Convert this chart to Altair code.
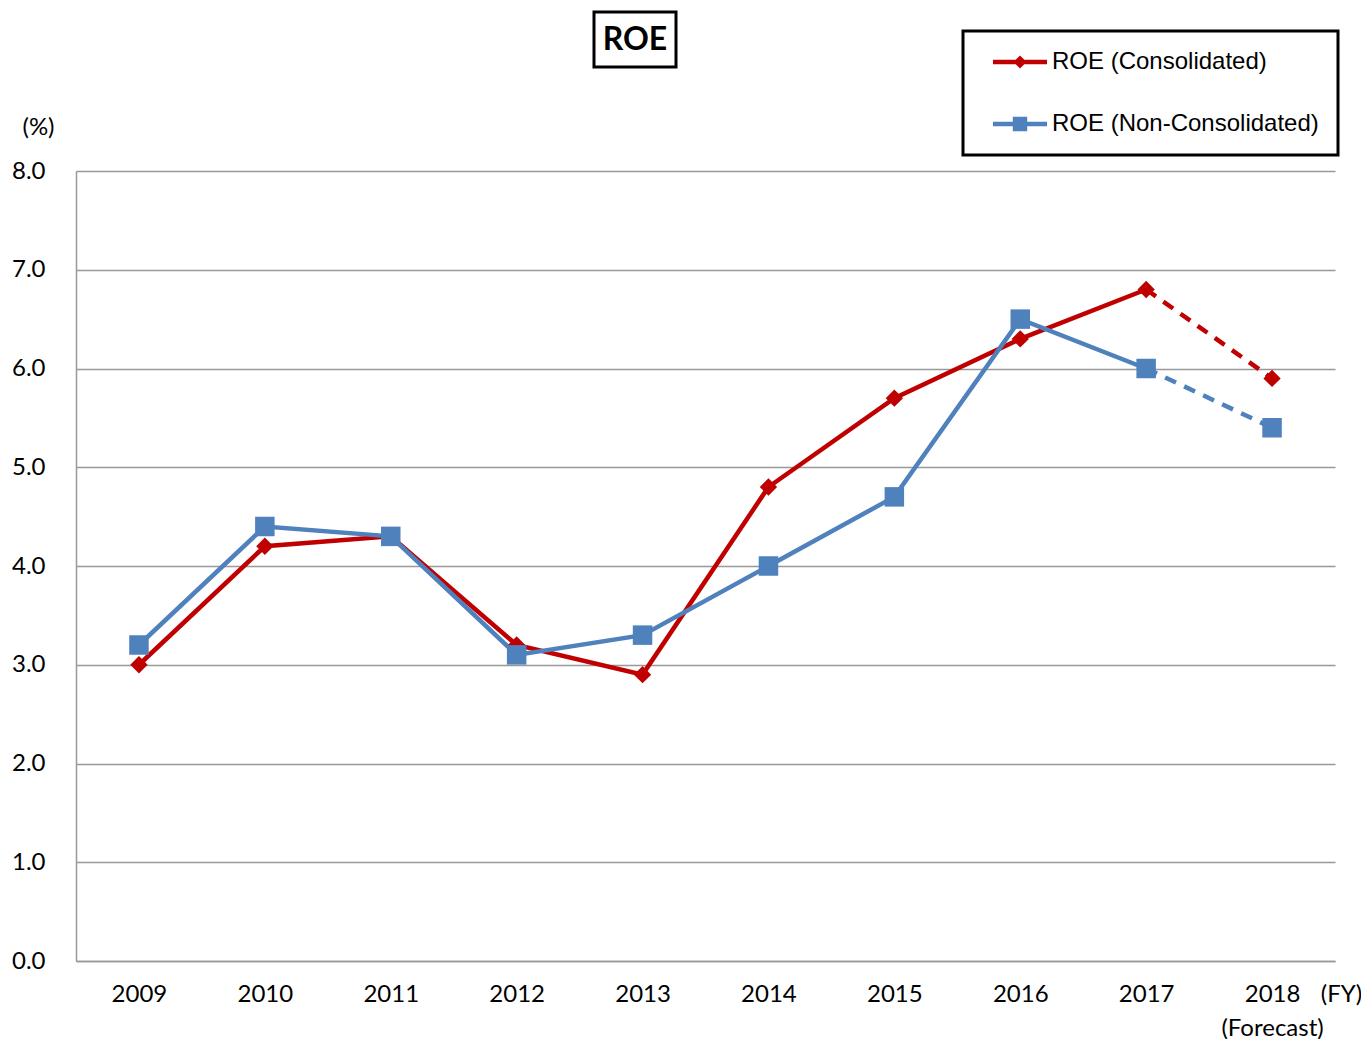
import altair as alt
import pandas as pd

years = ["2009", "2010", "2011", "2012", "2013", "2014", "2015", "2016", "2017", "2018"]
consolidated = [3.0, 4.2, 4.3, 3.2, 2.9, 4.8, 5.7, 6.3, 6.8, 5.9]
non_consolidated = [3.2, 4.4, 4.3, 3.1, 3.3, 4.0, 4.7, 6.5, 6.0, 5.4]
series_names = ["ROE (Consolidated)", "ROE (Non-Consolidated)"]
y_ticks = [0, 1, 2, 3, 4, 5, 6, 7, 8]
colors = ["#C00000", "#4F81BD"]

rows = []
for name, vals in zip(series_names, [consolidated, non_consolidated]):
    for yr, v in zip(years, vals):
        rows.append({"year": yr, "value": v, "series": name})
df = pd.DataFrame(rows)

AXIS_FONT = "Lato"
LEG_FONT = "Liberation Sans"
FS = 24

x_enc = alt.X(
    "year:O",
    scale=alt.Scale(domain=years, padding=0.5),
    axis=alt.Axis(
        title="(FY)", titleX=1265, titleY=33, titleBaseline="middle",
        titleFontWeight="normal", titleFont=AXIS_FONT, titleFontSize=FS, titleColor="#000",
        labelAngle=0, labelFont=AXIS_FONT, labelFontSize=FS, labelColor="#000",
        labelPadding=21, labelLineHeight=34, ticks=False,
        labelExpr="datum.value == '2018' ? ['2018', '(Forecast)'] : datum.label",
        domainColor="#999999", domainWidth=1.5, grid=False,
    ),
)
y_enc = alt.Y(
    "value:Q",
    scale=alt.Scale(domain=[0, 8], nice=False),
    axis=alt.Axis(
        values=y_ticks, format=".1f", title="(%)", titleAngle=0, titleX=-38, titleY=-44,
        titleAlign="center", titleBaseline="middle", titleFontWeight="normal", titleColor="#000",
        titleFont=AXIS_FONT, titleFontSize=FS, labelFont=AXIS_FONT, labelFontSize=FS,
        labelColor="#000", labelPadding=31, ticks=False, domainColor="#999999",
        domainWidth=1.5, gridColor="#999999", gridWidth=1.5,
    ),
)
col = alt.Color("series:N", scale=alt.Scale(domain=series_names, range=colors), legend=None)

base = alt.Chart(df)

solid = base.mark_line(strokeWidth=4.5).encode(x=x_enc, y=y_enc, color=col, detail="series:N").transform_filter(
    "datum.year != '2018'")
dashed = base.mark_line(strokeWidth=4.5, strokeDash=[12, 9]).encode(x=x_enc, y=y_enc, color=col, detail="series:N").transform_filter(
    "datum.year == '2017' || datum.year == '2018'")
points = base.mark_point(filled=True, opacity=1).encode(
    x=x_enc, y=y_enc, color=col,
    shape=alt.Shape("series:N", scale=alt.Scale(domain=series_names, range=["diamond", "square"]), legend=None),
    size=alt.Size("series:N", scale=alt.Scale(domain=series_names, range=[300, 380]), legend=None),
)

diamond_path = "M-2.25,-0.18L2.25,-0.18L2.25,0.18L-2.25,0.18Z M-0.55,0L0,-0.55L0.55,0L0,0.55Z"
square_path = "M-2.25,-0.18L2.25,-0.18L2.25,0.18L-2.25,0.18Z M-0.6,-0.6L0.6,-0.6L0.6,0.6L-0.6,0.6Z"

legend_layer = base.mark_point(filled=True, opacity=1).encode(
    color=alt.Color("series:N", scale=alt.Scale(domain=series_names, range=colors),
                    legend=alt.Legend(
                        title=None, orient="none", legendX=887, legendY=-140,
                        symbolSize=576, symbolOffset=26, labelOffset=20,
                        labelFont=LEG_FONT, labelFontSize=FS, labelColor="#000",
                        padding=19, rowPadding=38, strokeColor="#000", fillColor="#fff",
                        symbolStrokeWidth=0, labelLimit=400,
                    )),
    shape=alt.Shape("series:N", scale=alt.Scale(domain=series_names, range=[diamond_path, square_path])),
).transform_filter("false")

one = pd.DataFrame({"t": ["ROE"]})
title_box = alt.Chart(one).mark_rect(filled=False, stroke="#000", strokeWidth=3).encode(
    x=alt.value(518), x2=alt.value(600), y=alt.value(-159), y2=alt.value(-104))
title_text = alt.Chart(one).mark_text(font=AXIS_FONT, fontSize=32, fontWeight="bold", color="#000",
                                      align="center", baseline="middle").encode(
    x=alt.value(559), y=alt.value(-131), text="t:N")

chart = alt.layer(solid, dashed, points, legend_layer, title_box, title_text).resolve_scale(
    color="independent", shape="independent", size="independent"
).properties(
    width=1259, height=790, autosize="none",
    padding={"left": 68, "top": 163, "right": 26, "bottom": 78},
).configure_view(stroke=None).configure_legend(strokeWidth=3)

chart.save("out.html", embed_options={"renderer": "svg", "actions": False})
